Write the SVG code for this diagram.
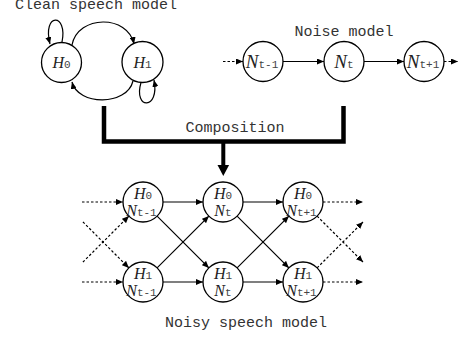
<svg xmlns="http://www.w3.org/2000/svg" width="464" height="338" viewBox="0 0 464 338">
<defs>
<marker id="ah" markerWidth="7" markerHeight="6" refX="7" refY="3" orient="auto" markerUnits="userSpaceOnUse"><path d="M0,0 L7,3 L0,6 z" fill="#000"/></marker>
</defs>
<style>
.node{fill:#fff;stroke:#000;stroke-width:1.3}
.e{fill:none;stroke:#000;stroke-width:1.2;marker-end:url(#ah)}
.d{fill:none;stroke:#000;stroke-width:1.2;stroke-dasharray:2.5,2;marker-end:url(#ah)}
.t{font-family:"Liberation Mono",monospace;font-size:15px;fill:#333}
.v{font-family:"Liberation Serif",serif;font-style:italic;fill:#222}
.s{font-family:"Liberation Mono",monospace;font-style:normal;font-size:11px;fill:#444}
</style>
<rect width="464" height="338" fill="#fff"/>
<text class="t" x="15" y="8.5">Clean speech model</text>
<text class="t" x="344" y="36" text-anchor="middle">Noise model</text>
<text class="t" x="235" y="132" text-anchor="middle">Composition</text>
<text class="t" x="246" y="327" text-anchor="middle">Noisy speech model</text>
<g id="connectors">
<path class="e" d="M72 45 C78 14.5, 128 14.5, 134 44"/>
<path class="e" d="M133 81 C127 106, 78 106, 72 82"/>
<path class="e" d="M62 42 C68 12.5, 42 12.5, 50 44"/>
<path class="e" d="M141 82.5 C133 110, 160 110, 154 80"/>
<line class="d" x1="223" y1="61.5" x2="243" y2="61.5"/>
<line class="e" x1="283" y1="61.5" x2="324" y2="61.5"/>
<line class="e" x1="364" y1="61.5" x2="404" y2="61.5"/>
<line class="d" x1="444" y1="61.5" x2="458" y2="61.5"/>
<polyline points="104,106 104,141.5 343.5,141.5 343.5,106" fill="none" stroke="#000" stroke-width="4.5"/>
<line x1="223.3" y1="141.5" x2="223.3" y2="166" stroke="#000" stroke-width="4"/>
<path d="M217.5 165 L229.1 165 L223.3 176 z" fill="#000"/>
<line class="d" x1="82" y1="202" x2="123" y2="202"/>
<line class="d" x1="82" y1="282" x2="123" y2="282"/>
<line class="d" x1="82.9" y1="221.9" x2="128.9" y2="267.9"/>
<line class="d" x1="82.9" y1="262.1" x2="128.9" y2="216.1"/>
<line class="e" x1="163" y1="202" x2="203" y2="202"/>
<line class="e" x1="163" y1="282" x2="203" y2="282"/>
<line class="e" x1="157.1" y1="216.1" x2="208.9" y2="267.9"/>
<line class="e" x1="157.1" y1="267.9" x2="208.9" y2="216.1"/>
<line class="e" x1="243" y1="202" x2="283" y2="202"/>
<line class="e" x1="243" y1="282" x2="283" y2="282"/>
<line class="e" x1="237.1" y1="216.1" x2="288.9" y2="267.9"/>
<line class="e" x1="237.1" y1="267.9" x2="288.9" y2="216.1"/>
<line class="d" x1="323" y1="202" x2="363" y2="202"/>
<line class="d" x1="323" y1="282" x2="363" y2="282"/>
<line class="d" x1="317.1" y1="216.1" x2="363" y2="262"/>
<line class="d" x1="317.1" y1="267.9" x2="363" y2="222"/>
</g>
<g id="H0"><circle class="node" cx="61.5" cy="62.5" r="20"/><text class="v" x="61.5" y="68" font-size="16" text-anchor="middle">H<tspan class="s">0</tspan></text></g>
<g id="H1"><circle class="node" cx="142.5" cy="62" r="20.5"/><text class="v" x="142.5" y="68" font-size="16" text-anchor="middle">H<tspan class="s">1</tspan></text></g>
<g id="Ntm1"><circle class="node" cx="263" cy="61.5" r="20"/><text class="v" x="262" y="68" font-size="19" text-anchor="middle">N<tspan class="s">t-1</tspan></text></g>
<g id="Nt"><circle class="node" cx="344" cy="61.5" r="20"/><text class="v" x="344" y="68" font-size="19" text-anchor="middle">N<tspan class="s">t</tspan></text></g>
<g id="Ntp1"><circle class="node" cx="424" cy="61.5" r="20"/><text class="v" x="423" y="68" font-size="19" text-anchor="middle">N<tspan class="s">t+1</tspan></text></g>
<g id="H0Ntm1"><circle class="node" cx="143" cy="202" r="20"/><text class="v" x="143" y="198.5" font-size="16" text-anchor="middle">H<tspan class="s">0</tspan></text><text class="v" x="141.5" y="215.5" font-size="16" text-anchor="middle">N<tspan class="s">t-1</tspan></text></g>
<g id="H0Nt"><circle class="node" cx="223" cy="202" r="20"/><text class="v" x="223" y="198.5" font-size="16" text-anchor="middle">H<tspan class="s">0</tspan></text><text class="v" x="223" y="215.5" font-size="16" text-anchor="middle">N<tspan class="s">t</tspan></text></g>
<g id="H0Ntp1"><circle class="node" cx="303" cy="202" r="20"/><text class="v" x="303" y="198.5" font-size="16" text-anchor="middle">H<tspan class="s">0</tspan></text><text class="v" x="301.5" y="215.5" font-size="16" text-anchor="middle">N<tspan class="s">t+1</tspan></text></g>
<g id="H1Ntm1"><circle class="node" cx="143" cy="282" r="20"/><text class="v" x="143" y="278.5" font-size="16" text-anchor="middle">H<tspan class="s">1</tspan></text><text class="v" x="141.5" y="295.5" font-size="16" text-anchor="middle">N<tspan class="s">t-1</tspan></text></g>
<g id="H1Nt"><circle class="node" cx="223" cy="282" r="20"/><text class="v" x="223" y="278.5" font-size="16" text-anchor="middle">H<tspan class="s">1</tspan></text><text class="v" x="223" y="295.5" font-size="16" text-anchor="middle">N<tspan class="s">t</tspan></text></g>
<g id="H1Ntp1"><circle class="node" cx="303" cy="282" r="20"/><text class="v" x="303" y="278.5" font-size="16" text-anchor="middle">H<tspan class="s">1</tspan></text><text class="v" x="301.5" y="295.5" font-size="16" text-anchor="middle">N<tspan class="s">t+1</tspan></text></g>
</svg>
